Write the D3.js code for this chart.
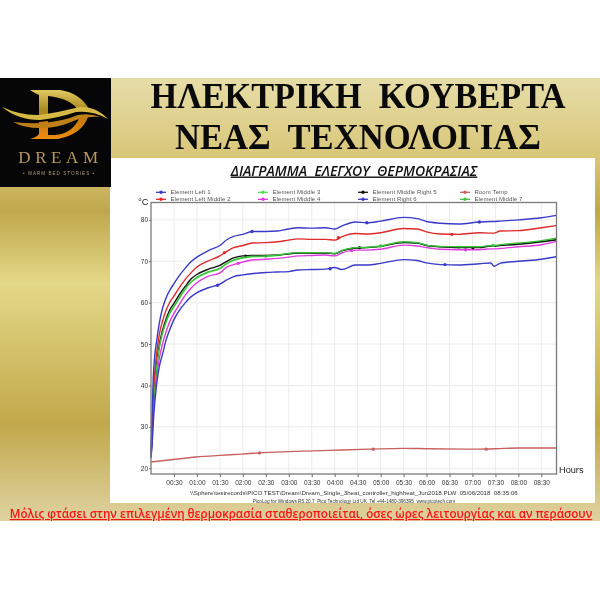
<!DOCTYPE html>
<html>
<head>
<meta charset="utf-8">
<script src="https://cdnjs.cloudflare.com/ajax/libs/d3/7.8.5/d3.min.js"></script>
<style>
  html, body { margin: 0; padding: 0; background: #fff; }
  svg { display: block; }
</style>
</head>
<body>
<div id="chart"></div>
<script>
// time axis (hours) shared by the element channels
const hours = [0, .02, .05, .08, .12, .18, .25, .33, .41, .5, .62, .75, .87, 1, 1.25, 1.5, 1.65, 1.8, 2, 2.2, 2.5, 2.75, 3, 3.2, 3.5, 3.8, 4, 4.15, 4.45, 4.7, 5, 5.5, 5.8, 6, 6.3, 6.7, 7.15, 7.4, 7.47, 7.6, 8, 8.5, 8.83];

const left1 = [24, 31, 42, 47, 50.5, 55, 58.6, 61.2, 63, 64.6, 66.6, 68.4, 69.9, 71, 72.6, 73.8, 75.2, 76, 76.5, 77.2, 77.2, 77.3, 77.8, 78.1, 78, 78.1, 77.8, 78.5, 79.5, 79.3, 79.7, 80.6, 80.3, 79.6, 79.2, 79, 79.5, 79.6, 79.6, 79.7, 80, 80.5, 81.1];
const leftMiddle2 = [23.5, 29, 38, 43, 47.5, 52.3, 55.5, 58.2, 60.1, 61.6, 63.7, 65.7, 67.2, 68.6, 70.1, 71.3, 72.4, 73.3, 73.8, 74.4, 74.5, 74.7, 75.1, 75.4, 75.3, 75.3, 75.1, 75.9, 76.7, 76.6, 76.9, 77.9, 77.8, 77.1, 76.6, 76.5, 76.9, 76.8, 76.8, 77.3, 77.4, 78.1, 78.6];
const middle3 = [23, 27, 35, 39.5, 44, 49, 52.5, 55.3, 57.4, 59, 61.1, 63.3, 64.9, 66, 67.3, 68.2, 69.4, 70.2, 70.8, 71.1, 71.2, 71.4, 71.8, 72, 72, 72, 71.8, 72.5, 73.2, 73.3, 73.6, 74.6, 74.4, 73.8, 73.5, 73.4, 73.4, 73.7, 73.7, 73.9, 74.2, 74.8, 75.3];
const middle4 = [22.8, 26, 33, 37.5, 42, 46.5, 50, 53, 55.5, 57.4, 59.6, 61.9, 63.5, 64.8, 66.4, 67.2, 68.6, 69.2, 69.8, 70.3, 70.5, 70.7, 71, 71.3, 71.4, 71.5, 71.3, 72, 72.7, 72.7, 72.9, 73.9, 73.7, 73.3, 72.9, 72.8, 72.8, 73, 73, 73.1, 73.5, 74, 74.8];
const middleRight5 = [23.2, 27.5, 35.5, 40, 44.8, 49.8, 53.3, 56.1, 58.3, 59.8, 62, 64, 65.7, 66.8, 68.1, 69, 70, 70.8, 71.3, 71.4, 71.4, 71.5, 71.8, 72, 72, 72, 71.8, 72.5, 73.2, 73.3, 73.6, 74.5, 74.4, 73.8, 73.5, 73.3, 73.3, 73.7, 73.7, 73.8, 74.1, 74.7, 75.2];
const right6 = [22.5, 25, 31, 35.5, 40, 44.5, 47.5, 51, 53.5, 55.9, 58.2, 60, 61.4, 62.4, 63.6, 64.5, 65.5, 66.3, 66.7, 67, 67.3, 67.4, 67.5, 67.9, 68, 68.1, 68.5, 68, 69.1, 69.1, 69.5, 70.4, 70.2, 69.6, 69.2, 69.1, 69.4, 69.6, 68.8, 69.5, 70, 70.5, 71.1];
const middle7 = [23.1, 27.2, 35.2, 39.7, 44.2, 49.2, 52.7, 55.5, 57.6, 59.1, 61.3, 63.5, 65, 66.1, 67.5, 68.3, 69.5, 70.3, 70.9, 71.2, 71.3, 71.5, 71.9, 72.1, 72.1, 72.1, 71.9, 72.6, 73.3, 73.4, 73.7, 74.7, 74.5, 73.9, 73.6, 73.5, 73.5, 73.8, 73.8, 74, 74.4, 75, 75.6];

// room temperature has its own, sparser readings
const roomHours = [0, .48, .98, 1.5, 1.98, 2.36, 2.98, 3.88, 4.75, 5.5, 6, 7, 7.5, 8, 8.83];
const roomTemp = [21.5, 22.1, 22.7, 23.1, 23.4, 23.7, 24, 24.3, 24.6, 24.8, 24.7, 24.6, 24.7, 24.9, 24.9];

// the little dots logged on each trace [hour, value]
const left1Dots = [[2.2, 77.2], [4.7, 79.3], [7.15, 79.5]];
const leftMiddle2Dots = [[1.6, 72.1], [4.08, 75.7], [6.55, 76.5]];
const middle3Dots = [[2.5, 71.2], [6.7, 73.4]];
const middle4Dots = [[1.9, 69.5], [4.37, 72.6], [6.85, 72.8]];
const middleRight5Dots = [[2.06, 71.2], [4.54, 73.3], [7.01, 73.3]];
const right6Dots = [[1.45, 64.2], [3.9, 68.2], [6.4, 69.2]];
const roomDots = [[2.36, 23.7], [4.84, 24.6], [7.3, 24.6]];
const middle7Dots = [[5, 73.7], [7.45, 73.8]];

const seriesNames = ['Element Left 1', 'Element Left Middle 2', 'Element Middle 3', 'Element Middle 4', 'Element Middle Right 5', 'Element Right 6', 'Room Temp', 'Element Middle 7'];
const seriesColors = ['#3a3ac8', '#e02a2a', '#55e055', '#e03ae0', '#111111', '#3a3ac8', '#c86060', '#40c040'];

const timeTicks = [.5, 1, 1.5, 2, 2.5, 3, 3.5, 4, 4.5, 5, 5.5, 6, 6.5, 7, 7.5, 8, 8.5];
const timeLabels = ['00:30', '01:00', '01:30', '02:00', '02:30', '03:00', '03:30', '04:00', '04:30', '05:00', '05:30', '06:00', '06:30', '07:00', '07:30', '08:00', '08:30'];
const tempTicks = [20, 30, 40, 50, 60, 70, 80];

const titleLines = ['ΗΛΕΚΤΡΙΚΗ  ΚΟΥΒΕΡΤΑ', 'ΝΕΑΣ  ΤΕΧΝΟΛΟΓΙΑΣ'];
const titleWidths = [415, 366];
const heading = 'ΔΙΑΓΡΑΜΜΑ  ΕΛΕΓΧΟΥ  ΘΕΡΜΟΚΡΑΣΙΑΣ';
const caption = 'Μόλις φτάσει στην επιλεγμένη θερμοκρασία σταθεροποιείται, όσες ώρες λειτουργίας και αν περάσουν';
const footerPath = '\\\\Sphere\\testrecords\\PICO TEST\\Dream\\Dream_Single_3heat_controller_highheat_Jun2018.PLW  05/06/2018  08:35:06';
const footerPico = 'PicoLog for Windows R5.20.7  Pico Technology Ltd UK  Tel +44-1480-396395  www.picotech.com';

const svg = d3.select('#chart').append('svg')
  .attr('width', 600)
  .attr('height', 600)
  .style('filter', 'blur(0.35px)');

const defs = svg.append('defs');

// gold background panel
const bg = defs.append('linearGradient').attr('id', 'goldBg').attr('x1', 0).attr('x2', 0).attr('y1', 0).attr('y2', 1);
[[0, '#e6dda8'], [.18, '#d8c678'], [.3, '#c0a74c'], [.463, '#e3d888'], [.78, '#c2a84a'], [1, '#ded2a0']]
  .forEach(s => bg.append('stop').attr('offset', s[0]).attr('stop-color', s[1]));

const goldD = defs.append('linearGradient').attr('id', 'goldD')
  .attr('gradientUnits', 'userSpaceOnUse').attr('x1', 0).attr('x2', 0).attr('y1', 90).attr('y2', 140);
[[0, '#e0c860'], [.4, '#a88a20'], [.6, '#c87a10'], [1, '#f08c10']]
  .forEach(s => goldD.append('stop').attr('offset', s[0]).attr('stop-color', s[1]));

svg.append('rect').attr('x', 0).attr('y', 78).attr('width', 600).attr('height', 443).attr('fill', 'url(#goldBg)');
svg.append('rect').attr('x', 110).attr('y', 158).attr('width', 485).attr('height', 345).attr('fill', '#fff');

// logo
const logo = svg.append('g');
logo.append('rect').attr('x', 0).attr('y', 78).attr('width', 111).attr('height', 109).attr('fill', '#060606');
logo.append('path')
  .attr('fill', 'url(#goldD)')
  .attr('d', 'M30 90 L60 90 Q80 93 89 109 L78 110 Q70 98 48 96 L48 115 L39 116 L39 95 Q34 93 30 90 Z');
logo.append('path')
  .attr('fill', 'url(#goldD)')
  .attr('d', 'M39 122 L48 121 L48 135 L55 135 Q72 134 80 117 L88 117 Q82 134 58 139 L30 139 Q37 137 39 134 Z');
logo.append('path')
  .attr('fill', '#d8b845')
  .attr('d', 'M2 107 Q22 116 40 115 Q60 112 80 107 Q96 106 108 119 Q92 110 76 112 Q58 118 40 120 Q18 120 2 107 Z');
logo.append('path')
  .attr('fill', '#c08018')
  .attr('d', 'M13 122 Q30 124 42 123 Q64 121 78 115 Q90 113 100 117 Q88 116 76 120 Q56 129 40 128 Q24 128 13 122 Z');
logo.append('text')
  .attr('x', 60.5).attr('y', 163)
  .attr('text-anchor', 'middle')
  .attr('font-family', '"Liberation Serif", serif')
  .attr('font-size', 17)
  .attr('letter-spacing', 4.6)
  .attr('fill', '#b89860')
  .text('DREAM');
logo.append('text')
  .attr('x', 59).attr('y', 175)
  .attr('text-anchor', 'middle')
  .attr('font-family', '"Liberation Sans", sans-serif')
  .attr('font-size', 4.6)
  .attr('letter-spacing', 1)
  .attr('fill', '#a89a78')
  .text('• WARM BED STORIES •');

// title
svg.selectAll('.title')
  .data(titleLines)
  .enter()
  .append('text')
  .attr('class', 'title')
  .attr('x', 358)
  .attr('y', (d, i) => 108 + i * 41)
  .attr('text-anchor', 'middle')
  .attr('font-family', '"Liberation Serif", serif')
  .attr('font-size', 35.5)
  .attr('font-weight', 700)
  .attr('textLength', (d, i) => titleWidths[i])
  .attr('lengthAdjust', 'spacingAndGlyphs')
  .style('white-space', 'pre')
  .attr('fill', '#0a0a0a')
  .text(d => d);

// chart heading
svg.append('text')
  .attr('x', 354).attr('y', 175.5)
  .attr('text-anchor', 'middle')
  .attr('font-family', '"Open Sans", sans-serif')
  .attr('font-size', 14)
  .attr('font-weight', 600)
  .attr('font-style', 'italic')
  .attr('text-decoration', 'underline')
  .style('white-space', 'pre')
  .attr('fill', '#111')
  .text(heading);

// red caption at the bottom
svg.append('text')
  .attr('x', 301).attr('y', 518)
  .attr('text-anchor', 'middle')
  .attr('font-family', '"Open Sans", sans-serif')
  .attr('font-size', 11.6)
  .attr('font-weight', 600)
  .attr('text-decoration', 'underline')
  .attr('fill', '#fa1414')
  .text(caption);

// plot scales
const x = d3.scaleLinear().domain([0, 8.83]).range([151, 556.5]);
const y = d3.scaleLinear().domain([18.6, 84.2]).range([474, 202.5]);

// grid
svg.append('g').selectAll('line').data(timeTicks).enter().append('line')
  .attr('x1', d => x(d)).attr('x2', d => x(d))
  .attr('y1', y.range()[1]).attr('y2', y.range()[0])
  .attr('stroke', '#ececec').attr('stroke-width', 1);
svg.append('g').selectAll('line').data(tempTicks).enter().append('line')
  .attr('x1', x.range()[0]).attr('x2', x.range()[1])
  .attr('y1', d => y(d)).attr('y2', d => y(d))
  .attr('stroke', '#ececec').attr('stroke-width', 1);

// axes
const xAxis = svg.append('g')
  .attr('transform', `translate(0,${y.range()[0]})`)
  .call(d3.axisBottom(x).tickValues(timeTicks).tickFormat((d, i) => timeLabels[i]).tickSize(3).tickPadding(3));
const yAxis = svg.append('g')
  .attr('transform', `translate(${x.range()[0]},0)`)
  .call(d3.axisLeft(y).tickValues(tempTicks).tickSize(2).tickPadding(1));
[xAxis, yAxis].forEach(a => {
  a.select('.domain').remove();
  a.selectAll('line').attr('stroke', '#666');
  a.selectAll('text')
    .attr('font-family', '"Liberation Sans", sans-serif')
    .attr('font-size', 6.5)
    .attr('fill', '#333');
});

// traces, blue ones go last so they sit on top of the steep start
const line = d3.line().x(d => x(d[0])).y(d => y(d[1])).curve(d3.curveMonotoneX);
const traces = [
  { xs: hours, ys: middle4, dots: middle4Dots, c: 3 },
  { xs: hours, ys: middle3, dots: middle3Dots, c: 2 },
  { xs: hours, ys: middleRight5, dots: middleRight5Dots, c: 4 },
  { xs: hours, ys: middle7, dots: middle7Dots, c: 7 },
  { xs: hours, ys: leftMiddle2, dots: leftMiddle2Dots, c: 1 },
  { xs: hours, ys: left1, dots: left1Dots, c: 0 },
  { xs: hours, ys: right6, dots: right6Dots, c: 5 },
  { xs: roomHours, ys: roomTemp, dots: roomDots, c: 6 }
];
const traceG = svg.append('g');
traces.forEach(t => {
  traceG.append('path')
    .datum(t.xs.map((h, i) => [h, t.ys[i]]))
    .attr('fill', 'none')
    .attr('stroke', seriesColors[t.c])
    .attr('stroke-width', 1.4)
    .attr('d', line);
  traceG.selectAll(null).data(t.dots).enter().append('circle')
    .attr('cx', d => x(d[0]))
    .attr('cy', d => y(d[1]))
    .attr('r', 1.7)
    .attr('fill', seriesColors[t.c]);
});

// plot frame
svg.append('rect')
  .attr('x', x.range()[0]).attr('y', y.range()[1])
  .attr('width', x.range()[1] - x.range()[0])
  .attr('height', y.range()[0] - y.range()[1])
  .attr('fill', 'none')
  .attr('stroke', '#7a7a7a')
  .attr('stroke-width', 1.3);

// axis unit labels
svg.append('text').attr('x', 138).attr('y', 205)
  .attr('font-family', '"Liberation Sans", sans-serif').attr('font-size', 9.5).attr('fill', '#222').text('°C');
svg.append('text').attr('x', 559).attr('y', 473)
  .attr('font-family', '"Liberation Sans", sans-serif').attr('font-size', 9.2).attr('fill', '#222').text('Hours');

// legend, two rows by four columns
const legendX = [156, 258, 358, 460];
const legendY = [192.3, 199.3];
const legendOrder = [[0, 0, 0], [1, 0, 1], [2, 1, 0], [3, 1, 1], [4, 2, 0], [5, 2, 1], [6, 3, 0], [7, 3, 1]];
const legend = svg.append('g').selectAll('g').data(legendOrder).enter().append('g')
  .attr('transform', d => `translate(${legendX[d[1]]},${legendY[d[2]]})`);
legend.append('line').attr('x1', 0).attr('x2', 10)
  .attr('stroke', d => seriesColors[d[0]]).attr('stroke-width', 1.3);
legend.append('circle').attr('cx', 5).attr('r', 1.7).attr('fill', d => seriesColors[d[0]]);
legend.append('text').attr('x', 14.5).attr('y', 2)
  .attr('font-family', '"Liberation Sans", sans-serif')
  .attr('font-size', 6)
  .attr('letter-spacing', .1)
  .attr('fill', '#555')
  .text(d => seriesNames[d[0]]);

// footer lines
svg.append('text').attr('x', 354).attr('y', 495)
  .attr('text-anchor', 'middle')
  .attr('font-family', '"Liberation Sans", sans-serif').attr('font-size', 6.15)
  .style('white-space', 'pre').attr('fill', '#333').text(footerPath);
svg.append('text').attr('x', 354).attr('y', 502.5)
  .attr('text-anchor', 'middle')
  .attr('font-family', '"Liberation Sans", sans-serif').attr('font-size', 4.7)
  .style('white-space', 'pre').attr('fill', '#333').text(footerPico);
</script>
</body>
</html>
